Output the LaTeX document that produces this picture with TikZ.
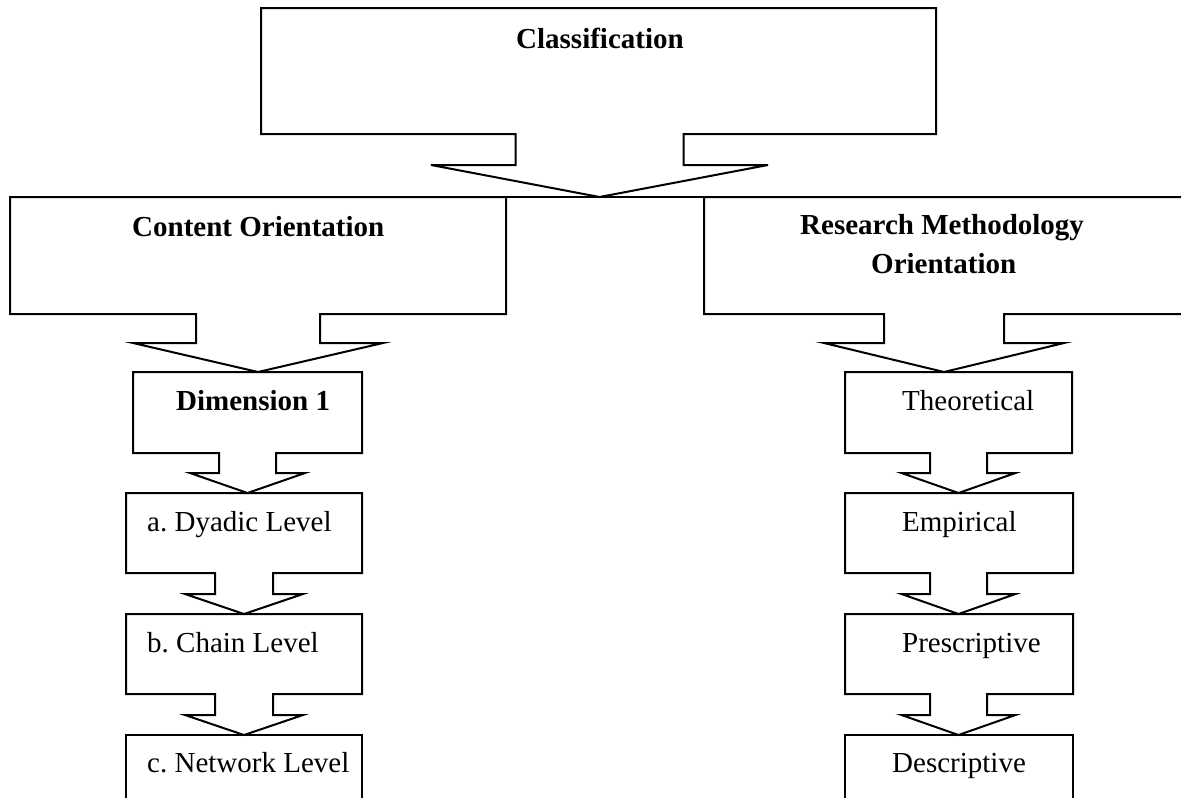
\documentclass[tikz,border=0pt]{standalone}
\usepackage{fontspec}
\setmainfont{Liberation Serif}
\frenchspacing
% box with a downward arrow below it:
% #1 left, #2 top, #3 right, #4 bottom, #5 arrow axis x,
% #6 shaft half width, #7 shaft bottom, #8 head half width, #9 tip y
\newcommand\calloutshape[9]{%
  \draw[outline] (#1,#2) -- (#3,#2) -- (#3,#4) -- ({#5+#6},#4) -- ({#5+#6},#7)
    -- ({#5+#8},#7) -- (#5,#9) -- ({#5-#8},#7) -- ({#5-#6},#7) -- ({#5-#6},#4)
    -- (#1,#4) -- cycle;}
\begin{document}
\begin{tikzpicture}[x=1pt,y=-1pt,
  outline/.style={draw=black,line width=2pt},
  lbl/.style={anchor=base west,inner sep=0pt,font=\fontsize{29}{34}\selectfont},
  blbl/.style={lbl,font=\fontsize{29}{34}\selectfont\bfseries}]
\useasboundingbox (0,0) rectangle (1181,798);
\clip (0,0) rectangle (1181,798);

% top level
\calloutshape{261}{8}{936}{134}{599.5}{84}{165}{168.5}{197}
% second level
\calloutshape{10}{197}{506}{314}{258}{62}{343}{125}{372}
\calloutshape{704}{197}{1200}{314}{944}{60}{343}{120}{372}
\coordinate (cotr) at (506,197);
\coordinate (rmtl) at (704,197);
\draw[outline] (cotr) -- (rmtl);

% left column
\calloutshape{133}{372}{362}{453}{247.5}{28.5}{473}{57.5}{493}
\calloutshape{126}{493}{362}{573}{244}{29}{594}{59}{614}
\calloutshape{126}{614}{362}{694}{244}{29}{715}{59}{735}
\draw[outline] (126,820) -- (126,735) -- (362,735) -- (362,820);

% right column
\calloutshape{845}{372}{1072}{453}{958.5}{28.5}{473}{57}{493}
\calloutshape{845}{493}{1073}{573}{958.5}{28.5}{594}{57}{614}
\calloutshape{845}{614}{1073}{694}{958.5}{28.5}{715}{57}{735}
\draw[outline] (845,820) -- (845,735) -- (1073,735) -- (1073,820);

% labels
\node[blbl] (cls) at (516,48) {Classification};
\node[blbl] (con) at (132,236) {Content Orientation};
\node[blbl] (rm1) at (800,234) {Research Methodology};
\node[blbl] (rm2) at (871,273) {Orientation};
\node[blbl] (dim) at (176,410) {Dimension 1};
\node[lbl] (dya) at (147,531) {a. Dyadic Level};
\node[lbl] (cha) at (147,652) {b. Chain Level};
\node[lbl] (net) at (147,772) {c. Network Level};
\node[lbl] (the) at (902,410) {Theoretical};
\node[lbl] (emp) at (902,531) {Empirical};
\node[lbl] (pre) at (902,652) {Prescriptive};
\node[lbl] (des) at (892,772) {Descriptive};
\end{tikzpicture}
\end{document}
